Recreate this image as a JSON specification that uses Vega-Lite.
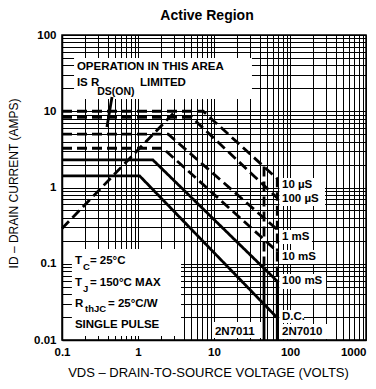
{
  "$schema": "https://vega.github.io/schema/vega-lite/v6.json",
  "width": 304,
  "height": 305,
  "autosize": {"type": "none"},
  "padding": {"left": 62, "top": 35, "right": 10, "bottom": 49},
  "title": {"text": "Active Region", "fontSize": 14, "fontWeight": "bold", "font": "Liberation Sans", "color": "black", "offset": 6, "dx": -7},
  "config": {"view": {"stroke": "black", "strokeWidth": 1.5}, "font": "Liberation Sans"},
  "datasets": {
    "curves": [
      {"s": "10us", "k": "dashed", "o": 1, "V": 0.1, "I": 10},
      {"s": "10us", "k": "dashed", "o": 2, "V": 7.2, "I": 10},
      {"s": "10us", "k": "dashed", "o": 3, "V": 68, "I": 1.3},
      {"s": "10us", "k": "dashed", "o": 4, "V": 68, "I": 0.73},
      {"s": "100us", "k": "dashed", "o": 1, "V": 0.1, "I": 8.3},
      {"s": "100us", "k": "dashed", "o": 2, "V": 5.1, "I": 8.3},
      {"s": "100us", "k": "dashed", "o": 3, "V": 68, "I": 0.73},
      {"s": "100us", "k": "dashed", "o": 4, "V": 68, "I": 0.28},
      {"s": "1ms", "k": "dashed", "o": 1, "V": 0.1, "I": 5},
      {"s": "1ms", "k": "dashed", "o": 2, "V": 2.5, "I": 5},
      {"s": "1ms", "k": "dashed", "o": 3, "V": 68, "I": 0.28},
      {"s": "1ms", "k": "dashed", "o": 4, "V": 68, "I": 0.145},
      {"s": "10ms", "k": "dashed", "o": 1, "V": 0.1, "I": 3.27},
      {"s": "10ms", "k": "dashed", "o": 2, "V": 2.13, "I": 3.27},
      {"s": "10ms", "k": "dashed", "o": 3, "V": 68, "I": 0.145},
      {"s": "10ms", "k": "dashed", "o": 4, "V": 68, "I": 0.059},
      {"s": "100ms", "k": "solid", "o": 1, "V": 0.1, "I": 2.3},
      {"s": "100ms", "k": "solid", "o": 2, "V": 1.57, "I": 2.3},
      {"s": "100ms", "k": "solid", "o": 3, "V": 68, "I": 0.059},
      {"s": "100ms", "k": "solid", "o": 4, "V": 68, "I": 0.0195},
      {"s": "dc", "k": "solid", "o": 1, "V": 0.1, "I": 1.42},
      {"s": "dc", "k": "solid", "o": 2, "V": 1.05, "I": 1.42},
      {"s": "dc", "k": "solid", "o": 3, "V": 68, "I": 0.0195},
      {"s": "dc", "k": "solid", "o": 4, "V": 68, "I": 0.01},
      {"s": "rds", "k": "dashed", "o": 1, "V": 0.1, "I": 0.29},
      {"s": "rds", "k": "dashed", "o": 2, "V": 3.1, "I": 10},
      {"s": "n7011a", "k": "dashed", "o": 1, "V": 45.5, "I": 1.88},
      {"s": "n7011a", "k": "dashed", "o": 2, "V": 45.5, "I": 0.0875},
      {"s": "n7011b", "k": "solid", "o": 1, "V": 45.5, "I": 0.0875},
      {"s": "n7011b", "k": "solid", "o": 2, "V": 45.5, "I": 0.01},
      {"s": "ptr", "k": "thin", "o": 1, "V": 0.455, "I": 15.4},
      {"s": "ptr", "k": "thin", "o": 2, "V": 0.39, "I": 6.2}
    ],
    "boxes": [
      {"V": 0.144, "V2": 31.6, "I": 49.9, "I2": 14.5},
      {"V": 0.135, "V2": 3.68, "I": 0.156, "I2": 0.01127},
      {"V": 9.7, "V2": 42.8, "I": 0.0172, "I2": 0.0106},
      {"V": 72.5, "V2": 289, "I": 1.33, "I2": 0.572},
      {"V": 72.5, "V2": 194.5, "I": 0.277, "I2": 0.1816},
      {"V": 72.5, "V2": 233, "I": 0.1514, "I2": 0.0993},
      {"V": 72.5, "V2": 298, "I": 0.0734, "I2": 0.0467},
      {"V": 72.5, "V2": 153, "I": 0.0247, "I2": 0.0167},
      {"V": 72.5, "V2": 368, "I": 0.0162, "I2": 0.0103}
    ],
    "labels": [
      {"t": "OPERATION IN THIS AREA", "V": 0.157, "I": 38.0},
      {"t": "IS R", "V": 0.157, "I": 23.4},
      {"t": "LIMITED", "V": 1.06, "I": 23.4},
      {"t": "T", "V": 0.148, "I": 0.1087},
      {"t": "= 25°C", "V": 0.233, "I": 0.1087},
      {"t": "T", "V": 0.148, "I": 0.056},
      {"t": "= 150°C MAX", "V": 0.233, "I": 0.056},
      {"t": "R", "V": 0.148, "I": 0.0297},
      {"t": "= 25°C/W", "V": 0.403, "I": 0.0297},
      {"t": "SINGLE PULSE", "V": 0.148, "I": 0.01574},
      {"t": "2N7011", "V": 10.3, "I": 0.01273},
      {"t": "2N7010", "V": 78.5, "I": 0.01273},
      {"t": "D.C.", "V": 78.5, "I": 0.02},
      {"t": "100 mS", "V": 78.5, "I": 0.0594},
      {"t": "10 mS", "V": 78.5, "I": 0.123},
      {"t": "1 mS", "V": 78.5, "I": 0.224},
      {"t": "100 µS", "V": 78.5, "I": 0.706},
      {"t": "10 µS", "V": 78.5, "I": 1.08}
    ],
    "subs": [
      {"t": "C", "V": 0.189, "I": 0.0906},
      {"t": "J", "V": 0.189, "I": 0.0467},
      {"t": "thJC", "V": 0.201, "I": 0.0255}
    ],
    "bigsubs": [
      {"t": "DS(ON)", "V": 0.29, "I": 18.0}
    ]
  },
  "encoding": {
    "x": {
      "field": "V", "type": "quantitative",
      "scale": {"type": "log", "domain": [0.1, 1000]},
      "axis": {
        "values": [0.1,0.2,0.3,0.4,0.5,0.6,0.7,0.8,0.9,1,2,3,4,5,6,7,8,9,10,20,30,40,50,60,70,80,90,100,200,300,400,500,600,700,800,900,1000],
        "format": "~g",
        "labelExpr": "(datum.value == 0.1 || datum.value == 1 || datum.value == 10 || datum.value == 100 || datum.value == 1000) ? datum.label : ''",
        "grid": true, "gridColor": "black", "gridWidth": 1, "gridOpacity": 1,
        "ticks": false, "domainColor": "black", "domainWidth": 1.5,
        "labelFont": "Liberation Sans", "labelFontSize": 11.5, "labelFontWeight": "bold", "labelColor": "black",
        "labelPadding": 6, "labelFlush": false, "labelOverlap": false,
        "labelAlign": {"condition": {"test": "datum.value == 1000", "value": "right"}, "value": "center"},
        "title": "VDS – DRAIN-TO-SOURCE VOLTAGE (VOLTS)",
        "titleFont": "Liberation Sans", "titleFontSize": 13, "titleFontWeight": "normal", "titleColor": "black",
        "titleX": 146, "titleY": 32, "titleBaseline": "middle", "titleAlign": "center"
      }
    },
    "y": {
      "field": "I", "type": "quantitative",
      "scale": {"type": "log", "domain": [0.01, 100]},
      "axis": {
        "values": [0.01,0.02,0.03,0.04,0.05,0.06,0.07,0.08,0.09,0.1,0.2,0.3,0.4,0.5,0.6,0.7,0.8,0.9,1,2,3,4,5,6,7,8,9,10,20,30,40,50,60,70,80,90,100],
        "format": "~g",
        "labelExpr": "(datum.value == 0.01 || datum.value == 0.1 || datum.value == 1 || datum.value == 10 || datum.value == 100) ? datum.label : ''",
        "grid": true, "gridColor": "black", "gridWidth": 1, "gridOpacity": 1,
        "ticks": false, "domainColor": "black", "domainWidth": 1.5,
        "labelFont": "Liberation Sans", "labelFontSize": 11.5, "labelFontWeight": "bold", "labelColor": "black",
        "labelPadding": 6, "labelFlush": false, "labelOverlap": false,
        "title": "ID – DRAIN CURRENT (AMPS)",
        "titleFont": "Liberation Sans", "titleFontSize": 12, "titleFontWeight": "normal", "titleColor": "black",
        "titleX": -49, "titleY": 148, "titleBaseline": "middle", "titleAlign": "center", "titleAngle": -90
      }
    }
  },
  "layer": [
    {
      "data": {"name": "boxes"},
      "mark": {"type": "rect", "color": "white", "opacity": 1},
      "encoding": {"x2": {"field": "V2"}, "y2": {"field": "I2"}}
    },
    {
      "data": {"name": "curves"},
      "mark": {"type": "line", "color": "black", "strokeCap": "butt"},
      "encoding": {
        "detail": {"field": "s", "type": "nominal"},
        "order": {"field": "o", "type": "quantitative"},
        "strokeDash": {"field": "k", "type": "nominal", "scale": {"domain": ["dashed", "solid", "thin"], "range": [[10, 5], [1, 0], [1, 0]]}, "legend": null},
        "strokeWidth": {"field": "k", "type": "nominal", "scale": {"domain": ["dashed", "solid", "thin"], "range": [2.8, 2.8, 1.3]}, "legend": null}
      }
    },
    {
      "data": {"name": "labels"},
      "mark": {"type": "text", "font": "Liberation Sans", "fontWeight": "bold", "fontSize": 11.5, "align": "left", "baseline": "middle", "color": "black"},
      "encoding": {"text": {"field": "t"}}
    },
    {
      "data": {"name": "subs"},
      "mark": {"type": "text", "font": "Liberation Sans", "fontWeight": "bold", "fontSize": 9.5, "align": "left", "baseline": "middle", "color": "black"},
      "encoding": {"text": {"field": "t"}}
    },
    {
      "data": {"name": "bigsubs"},
      "mark": {"type": "text", "font": "Liberation Sans", "fontWeight": "bold", "fontSize": 10.5, "align": "left", "baseline": "middle", "color": "black"},
      "encoding": {"text": {"field": "t"}}
    }
  ]
}
